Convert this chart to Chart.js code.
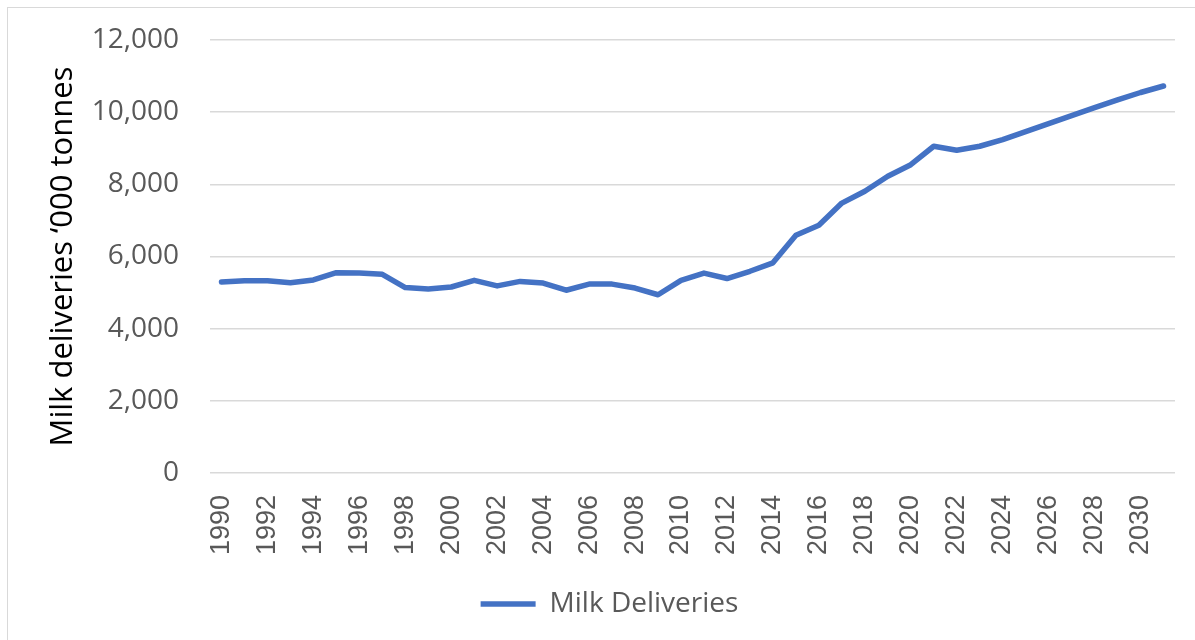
<!DOCTYPE html>
<html>
<head>
<meta charset="utf-8">
<script src="https://cdn.jsdelivr.net/npm/chart.js@4"></script>
<style>
  html, body { margin: 0; padding: 0; background: #fff; }
  #wrap { position: relative; width: 1195px; height: 640px; }
  #frame {
    position: absolute; left: 7px; top: 7px; width: 1200px; height: 650px;
    border-left: 1px solid #d9d9d9; border-top: 1px solid #d9d9d9;
    pointer-events: none;
  }
</style>
</head>
<body>
<div id="wrap">
  <canvas id="milkChart" width="1195" height="640"></canvas>
  <div id="frame"></div>
</div>
<script>
const years = [];
for (let y = 1990; y <= 2031; y++) years.push(String(y));

// '000 tonnes, 1990-2031
const milkDeliveries = [
  5290, 5330, 5330, 5270, 5350, 5550, 5545, 5505, 5140, 5100,
  5155, 5340, 5185, 5310, 5265, 5065, 5235, 5235, 5125, 4940,
  5340, 5540, 5390, 5590, 5825, 6590, 6865, 7480, 7810, 8225,
  8545, 9055, 8945, 9055, 9240, 9460, 9685, 9905, 10125, 10340,
  10545, 10725,
];

const yTicks = [0, 2000, 4000, 6000, 8000, 10000, 12000];

const lineColor = '#4472C4';
const gridColor = '#d9d9d9';
const labelColor = '#595959';

const ctx = document.getElementById('milkChart').getContext('2d');
new Chart(ctx, {
  type: 'line',
  data: {
    labels: years,
    datasets: [
      {
        label: 'Milk Deliveries',
        data: milkDeliveries,
        borderColor: lineColor,
        backgroundColor: lineColor,
        borderWidth: 5.5,
        borderCapStyle: 'round',
        borderJoinStyle: 'round',
        pointRadius: 0,
        tension: 0,
      },
    ],
  },
  options: {
    responsive: false,
    animation: false,
    layout: { padding: { top: 40, right: 20, bottom: 12, left: 44 } },
    plugins: {
      tooltip: { enabled: false },
      legend: {
        position: 'bottom',
        labels: {
          usePointStyle: true,
          pointStyle: 'line',
          pointStyleWidth: 55,
          color: labelColor,
          font: { family: 'Open Sans', size: 28 },
          padding: 12,
        },
      },
    },
    scales: {
      x: {
        offset: true,
        grid: { display: false, drawTicks: false },
        border: { display: false },
        ticks: {
          autoSkip: false,
          minRotation: 90,
          maxRotation: 90,
          padding: 22,
          color: labelColor,
          font: { family: 'Liberation Sans', size: 27 },
          callback: function (value, index) {
            return index % 2 === 0 ? this.getLabelForValue(value) : '';
          },
        },
        afterFit: (scale) => {
          scale.height = 105;
          scale.paddingLeft = 0;
          scale.paddingRight = 0;
        },
      },
      y: {
        min: 0,
        max: 12000,
        afterBuildTicks: (scale) => {
          scale.ticks = yTicks.map((v) => ({ value: v }));
        },
        grid: { color: gridColor, lineWidth: 1.5, drawTicks: false },
        border: { display: false },
        ticks: {
          padding: 31,
          color: labelColor,
          font: { family: 'Open Sans', size: 28 },
          callback: (v) => v.toLocaleString('en-US'),
        },
        title: {
          display: true,
          text: 'Milk deliveries ‘000 tonnes',
          color: '#000',
          font: { family: 'Open Sans', size: 31 },
          padding: { top: 1, bottom: 0 },
        },
        afterFit: (scale) => {
          scale.width = 166;
          scale.paddingTop = 0;
          scale.paddingBottom = 0;
        },
      },
    },
  },
});
</script>
</body>
</html>
